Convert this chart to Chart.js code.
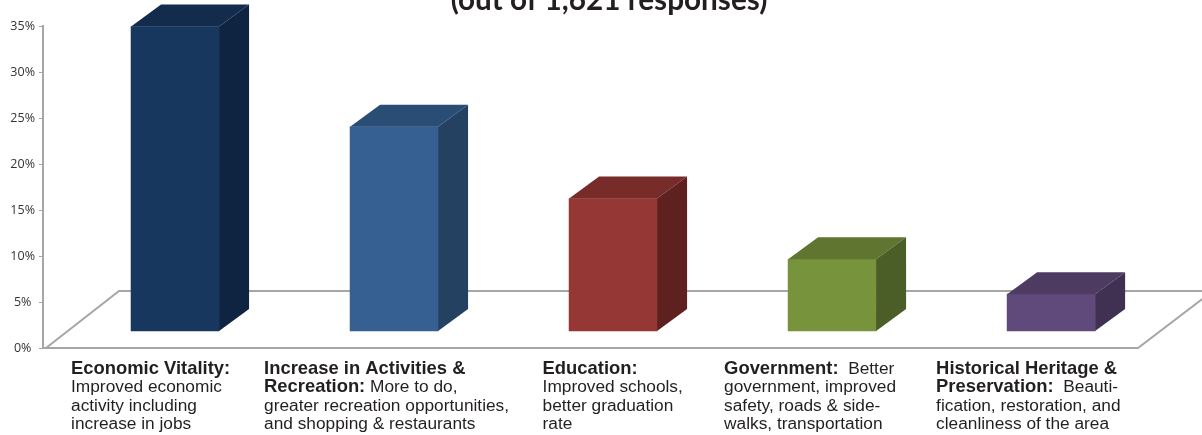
<!DOCTYPE html>
<html>
<head>
<meta charset="utf-8">
<title>Top responses</title>
<style>
    html, body { margin: 0; padding: 0; background: #fff; overflow: hidden; }
    canvas { display: block; }
</style>
<script src="https://cdn.jsdelivr.net/npm/chart.js@4"></script>
</head>
<body>
<canvas id="responseChart" width="1202" height="435"></canvas>
<script>
const titleText = '(out of 1,621 responses)';
const tickLabels = ['0%', '5%', '10%', '15%', '20%', '25%', '30%', '35%'];
const positions = [1, 2, 3, 4, 5];
const shares = [33.1, 22.2, 14.4, 7.8, 4.0];
const frontColors = ['#17375e', '#366092', '#953735', '#77933c', '#604a7b'];
const topColors = ['#132c4d', '#2a4d76', '#772c2a', '#5f7530', '#4d3b62'];
const sideColors = ['#0f2441', '#254162', '#5f2120', '#4c5e27', '#403152'];

// each category is a list of lines, each line is [bold part, regular part]
const categories = [
    [['Economic Vitality:', ''], ['', 'Improved economic'], ['', 'activity including'], ['', 'increase in jobs']],
    [['Increase in Activities &', ''], ['Recreation:', ' More to do,'], ['', 'greater recreation opportunities,'], ['', 'and shopping & restaurants']],
    [['Education:', ''], ['', 'Improved schools,'], ['', 'better graduation'], ['', 'rate']],
    [['Government:', '  Better'], ['', 'government, improved'], ['', 'safety, roads & side-'], ['', 'walks, transportation']],
    [['Historical Heritage &', ''], ['Preservation:', '  Beauti-'], ['', 'fication, restoration, and'], ['', 'cleanliness of the area']]
];
const labelOffsets = [-104, -130, -70.5, -108, -115];

// bars stand slightly in front of the back wall, so they get their own hidden axis
const barLift = 1.85;
const depthX = 30;
const depthY = 22;
const floorX = 75;
const floorY = 57;
const floorColor = '#a6a6a6';

// floor of the 3D box, behind the bars
const floorPlugin = {
    id: 'floor',
    beforeDatasetsDraw(chart) {
        const { ctx, chartArea } = chart;
        const left = chartArea.left;
        const bottom = chartArea.bottom;
        const frontRight = left + 1095;
        ctx.save();
        ctx.strokeStyle = floorColor;
        ctx.lineWidth = 2;
        ctx.beginPath();
        ctx.moveTo(left, bottom);
        ctx.lineTo(frontRight, bottom);
        ctx.lineTo(frontRight + floorX, bottom - floorY);
        ctx.moveTo(left + 3, bottom);
        ctx.lineTo(left + 3 + floorX - 2, bottom - floorY);
        ctx.lineTo(chart.width + 5, bottom - floorY);
        ctx.stroke();
        ctx.restore();
    }
};

// top and side faces of each bar
const depthPlugin = {
    id: 'depth',
    afterDatasetsDraw(chart) {
        const { ctx } = chart;
        chart.getDatasetMeta(0).data.forEach(function (bar, i) {
            const left = bar.x - bar.width / 2;
            const right = bar.x + bar.width / 2;
            ctx.fillStyle = topColors[i];
            ctx.beginPath();
            ctx.moveTo(left, bar.y);
            ctx.lineTo(left + depthX, bar.y - depthY);
            ctx.lineTo(right + depthX, bar.y - depthY);
            ctx.lineTo(right, bar.y);
            ctx.closePath();
            ctx.fill();
            ctx.fillStyle = sideColors[i];
            ctx.beginPath();
            ctx.moveTo(right, bar.y);
            ctx.lineTo(right + depthX, bar.y - depthY);
            ctx.lineTo(right + depthX, bar.base - depthY);
            ctx.lineTo(right, bar.base);
            ctx.closePath();
            ctx.fill();
        });
    }
};

// clipped title and the category captions with their mixed weights
const textPlugin = {
    id: 'texts',
    afterDraw(chart) {
        const { ctx, scales } = chart;
        ctx.save();
        ctx.textBaseline = 'alphabetic';
        ctx.textAlign = 'center';
        ctx.fillStyle = '#231f20';
        ctx.font = 'bold 29.7px Lato';
        ctx.fillText(titleText, 609, 10);
        ctx.textAlign = 'left';
        categories.forEach(function (lines, i) {
            const x = scales.x.getPixelForValue(positions[i]) + labelOffsets[i];
            lines.forEach(function (line, row) {
                const y = 373.5 + row * 18.6;
                ctx.font = 'bold 18.4px "Liberation Sans"';
                ctx.fillText(line[0], x, y);
                const boldWidth = ctx.measureText(line[0]).width;
                ctx.font = '17.3px "Liberation Sans"';
                ctx.fillText(line[1], x + boldWidth, y);
            });
        });
        ctx.restore();
    }
};

new Chart(document.getElementById('responseChart'), {
    type: 'bar',
    data: {
        datasets: [{
            data: positions.map(function (p, i) { return { x: p, y: shares[i] }; }),
            backgroundColor: frontColors,
            borderWidth: 0,
            barThickness: 88,
            yAxisID: 'bars'
        }]
    },
    plugins: [floorPlugin, depthPlugin, textPlugin],
    options: {
        responsive: false,
        animation: false,
        layout: { padding: { top: 26, bottom: 87 } },
        plugins: { legend: { display: false }, tooltip: { enabled: false } },
        scales: {
            x: {
                type: 'linear',
                display: false,
                offset: false,
                min: 0.397,
                max: 5.689
            },
            bars: {
                display: false,
                min: -barLift,
                max: 35 - barLift
            },
            y: {
                position: 'left',
                min: 0,
                max: 35,
                afterFit(scale) { scale.width = 43; },
                border: { display: true, color: floorColor, width: 2 },
                grid: { drawOnChartArea: false, drawTicks: true, tickLength: 4, color: floorColor },
                ticks: {
                    stepSize: 5,
                    padding: 4,
                    crossAlign: 'center',
                    color: '#333333',
                    font: { family: 'Open Sans', size: 12.5 },
                    callback: function (value) { return tickLabels[value / 5]; }
                }
            }
        }
    }
});
</script>
</body>
</html>
